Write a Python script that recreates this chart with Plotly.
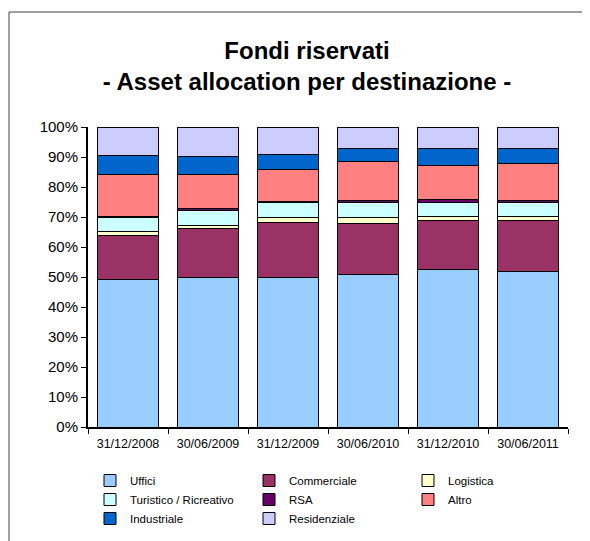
import plotly.graph_objects as go

# dates on the x axis
dates = ["31/12/2008", "30/06/2009", "31/12/2009", "30/06/2010", "31/12/2010", "30/06/2011"]

# share of each destination (%)
uffici = [49.3, 49.7, 50.0, 50.9, 52.4, 52.0]
commerciale = [14.7, 16.5, 18.2, 16.9, 16.5, 16.9]
logistica = [1.2, 1.1, 1.6, 1.9, 1.3, 1.3]
turistico = [4.7, 4.8, 4.9, 5.1, 4.8, 4.8]
rsa = [0.4, 0.6, 0.4, 0.6, 1.0, 0.6]
altro = [13.9, 11.5, 10.7, 13.2, 11.3, 12.2]
industriale = [6.4, 6.1, 5.2, 4.4, 5.4, 5.2]
residenziale = [9.4, 9.7, 9.0, 7.0, 7.3, 7.0]

series = [
    ("Uffici", uffici, "#99CCFF"),
    ("Commerciale", commerciale, "#993366"),
    ("Logistica", logistica, "#FFFFCC"),
    ("Turistico / Ricreativo", turistico, "#CCFFFF"),
    ("RSA", rsa, "#660066"),
    ("Altro", altro, "#FF8080"),
    ("Industriale", industriale, "#0066CC"),
    ("Residenziale", residenziale, "#CCCCFF"),
]

fig = go.Figure()
for name, vals, col in series:
    fig.add_trace(go.Bar(x=dates, y=vals, name=name,
                         marker=dict(color=col, line=dict(color="black", width=1))))

W, H = 590, 541
OFF = 8  # page body margin shifts the figure by 8px
ml, mr, mt, mb = 88 - OFF, 22 + OFF, 127 - OFF, 114 + OFF
pw, ph = W - ml - mr, H - mt - mb

# convert screen pixels to paper fractions
def px(x):
    return (x - OFF - ml) / pw

def py(y):
    return (H - mb - (y - OFF)) / ph

fig.update_layout(
    width=W, height=H,
    margin=dict(l=ml, r=mr, t=mt, b=mb, autoexpand=False),
    barmode="stack", bargap=0.24,
    paper_bgcolor="white", plot_bgcolor="white",
    font=dict(family="Liberation Sans, Arial", color="black"),
    showlegend=True,
    title=dict(text="<b>Fondi riservati<br>- Asset allocation per destinazione -</b>",
               x=299 / W, xanchor="center", y=1 - 51 / H, yanchor="middle",
               font=dict(size=24, color="black")),
    legend=dict(orientation="h", x=px(90), xanchor="left", y=py(466), yanchor="top",
                entrywidth=114, traceorder="normal", font=dict(size=11.5),
                itemwidth=30, tracegroupgap=0, bgcolor="rgba(0,0,0,0)"),
    shapes=[
        dict(type="line", xref="paper", yref="paper", x0=px(9), x1=px(W + OFF), y0=py(12), y1=py(12),
             line=dict(color="#404040", width=1)),
        dict(type="line", xref="paper", yref="paper", x0=px(9), x1=px(9), y0=py(12), y1=py(H + OFF),
             line=dict(color="#404040", width=1)),
    ],
)

fig.update_yaxes(range=[0, 100], dtick=10, ticksuffix="%", showgrid=False,
                 showline=True, linecolor="black", linewidth=2,
                 ticks="outside", ticklen=5, tickcolor="black",
                 tickfont=dict(size=15), zeroline=False)
fig.update_xaxes(showgrid=False, showline=True, linecolor="black", linewidth=2,
                 ticks="outside", ticklen=5, tickcolor="black", tickson="boundaries",
                 tickfont=dict(size=12.5), ticklabelstandoff=4)

fig.write_html("out.html")
